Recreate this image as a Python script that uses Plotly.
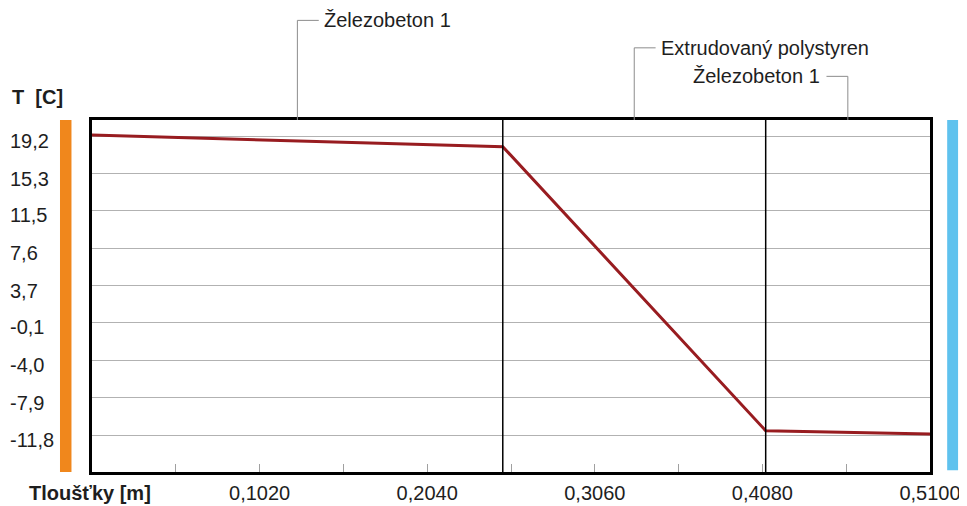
import numpy as np
import plotly.graph_objects as go

# layers of the wall (name, thickness in m)
layer_names = ["Železobeton 1", "Extrudovaný polystyren", "Železobeton 1"]
layer_thick = [0.25, 0.16, 0.10]

# temperature profile through the wall
pos_m = [0.0, 0.25, 0.41, 0.51]
temp_c = [19.3, 18.1, -11.3, -11.65]

# axis ticks
y_ticks = [19.2, 15.3, 11.5, 7.6, 3.7, -0.1, -4.0, -7.9, -11.8]
y_labels = ["19,2", "15,3", "11,5", "7,6", "3,7", "-0,1", "-4,0", "-7,9", "-11,8"]
x_ticks = [0.102, 0.204, 0.306, 0.408, 0.51]
x_labels = ["0,1020", "0,2040", "0,3060", "0,4080", "0,5100"]

FONT = "Liberation Sans"
TXT = "#1e1e1e"
FS = 20

bounds = np.cumsum(layer_thick)
centers = bounds - np.array(layer_thick) / 2

fig = go.Figure()
fig.add_trace(go.Scatter(x=pos_m, y=temp_c, mode="lines",
                         line=dict(color="#981c20", width=3), hoverinfo="skip"))

shapes = []
# layer boundaries inside the plot
for b in bounds[:-1]:
    shapes.append(dict(type="line", xref="x", yref="paper", x0=b, x1=b, y0=0, y1=1,
                       line=dict(color="black", width=1.5)))

# leader lines + layer labels above the plot
label_y = [1.283, 1.205, 1.124]
label_side = ["right", "right", "left"]
annotations = []
for name, c, ly, side in zip(layer_names, centers, label_y, label_side):
    shapes.append(dict(type="line", xref="x", yref="paper", x0=c, x1=c, y0=1, y1=ly,
                       line=dict(color="#8c8c8c", width=1)))
    dx = 0.013 if side == "right" else -0.013
    shapes.append(dict(type="line", xref="x", yref="paper", x0=c, x1=c + dx, y0=ly, y1=ly,
                       line=dict(color="#8c8c8c", width=1)))
    annotations.append(dict(x=c + dx, y=ly, xref="x", yref="paper", text=name,
                            showarrow=False, xanchor="left" if side == "right" else "right",
                            yanchor="middle",
                            xshift=3 if side == "right" else -4,
                            font=dict(family=FONT, size=FS, color=TXT)))

# interior / exterior colour bars
shapes.append(dict(type="rect", xref="paper", yref="paper", x0=-0.0382, x1=-0.0245,
                   y0=0, y1=1, line=dict(width=0), fillcolor="#f0871c"))
shapes.append(dict(type="rect", xref="paper", yref="paper", x0=1.0205, x1=1.0335,
                   y0=0.005, y1=1, line=dict(width=0), fillcolor="#5fc2ee"))

# y tick labels, left aligned like the original
for v, t in zip(y_ticks, y_labels):
    annotations.append(dict(x=-0.1, y=v, xref="paper", yref="y", text=t, showarrow=False,
                            xanchor="left", yanchor="middle", yshift=-5,
                            font=dict(family=FONT, size=FS, color=TXT)))

annotations.append(dict(x=-0.098, y=1.066, xref="paper", yref="paper", text="<b>T  [C]</b>",
                        showarrow=False, xanchor="left", yanchor="middle",
                        font=dict(family=FONT, size=FS, color=TXT)))
annotations.append(dict(x=-0.078, y=-0.06, xref="paper", yref="paper", text="<b>Tloušťky [m]</b>",
                        showarrow=False, xanchor="left", yanchor="middle",
                        font=dict(family=FONT, size=FS, color=TXT)))

# page body has an 8px margin, so the figure is 8px smaller and margins shifted
fig.update_layout(
    width=959, height=498,
    margin=dict(l=84, r=37, t=112, b=34),
    paper_bgcolor="white", plot_bgcolor="white",
    showlegend=False,
    shapes=shapes, annotations=annotations,
)
fig.update_xaxes(range=[0, 0.51], tickvals=x_ticks, ticktext=x_labels,
                 ticks="inside", ticklen=8, tickcolor="#a0a0a0", tickwidth=1,
                 minor=dict(dtick=0.051, tick0=0, ticks="inside", ticklen=8,
                            tickcolor="#a0a0a0", showgrid=False),
                 showgrid=False, zeroline=False, automargin=False,
                 showline=True, linecolor="black", linewidth=2.5, mirror=True,
                 ticklabelstandoff=1,
                 tickfont=dict(family=FONT, size=FS, color=TXT))
fig.update_yaxes(range=[-15.58, 20.86], tickvals=y_ticks, showticklabels=False,
                 showgrid=True, gridcolor="#b2b2b2", gridwidth=1.3, zeroline=False,
                 automargin=False,
                 showline=True, linecolor="black", linewidth=2.5, mirror=True)

fig.write_html("out.html")
